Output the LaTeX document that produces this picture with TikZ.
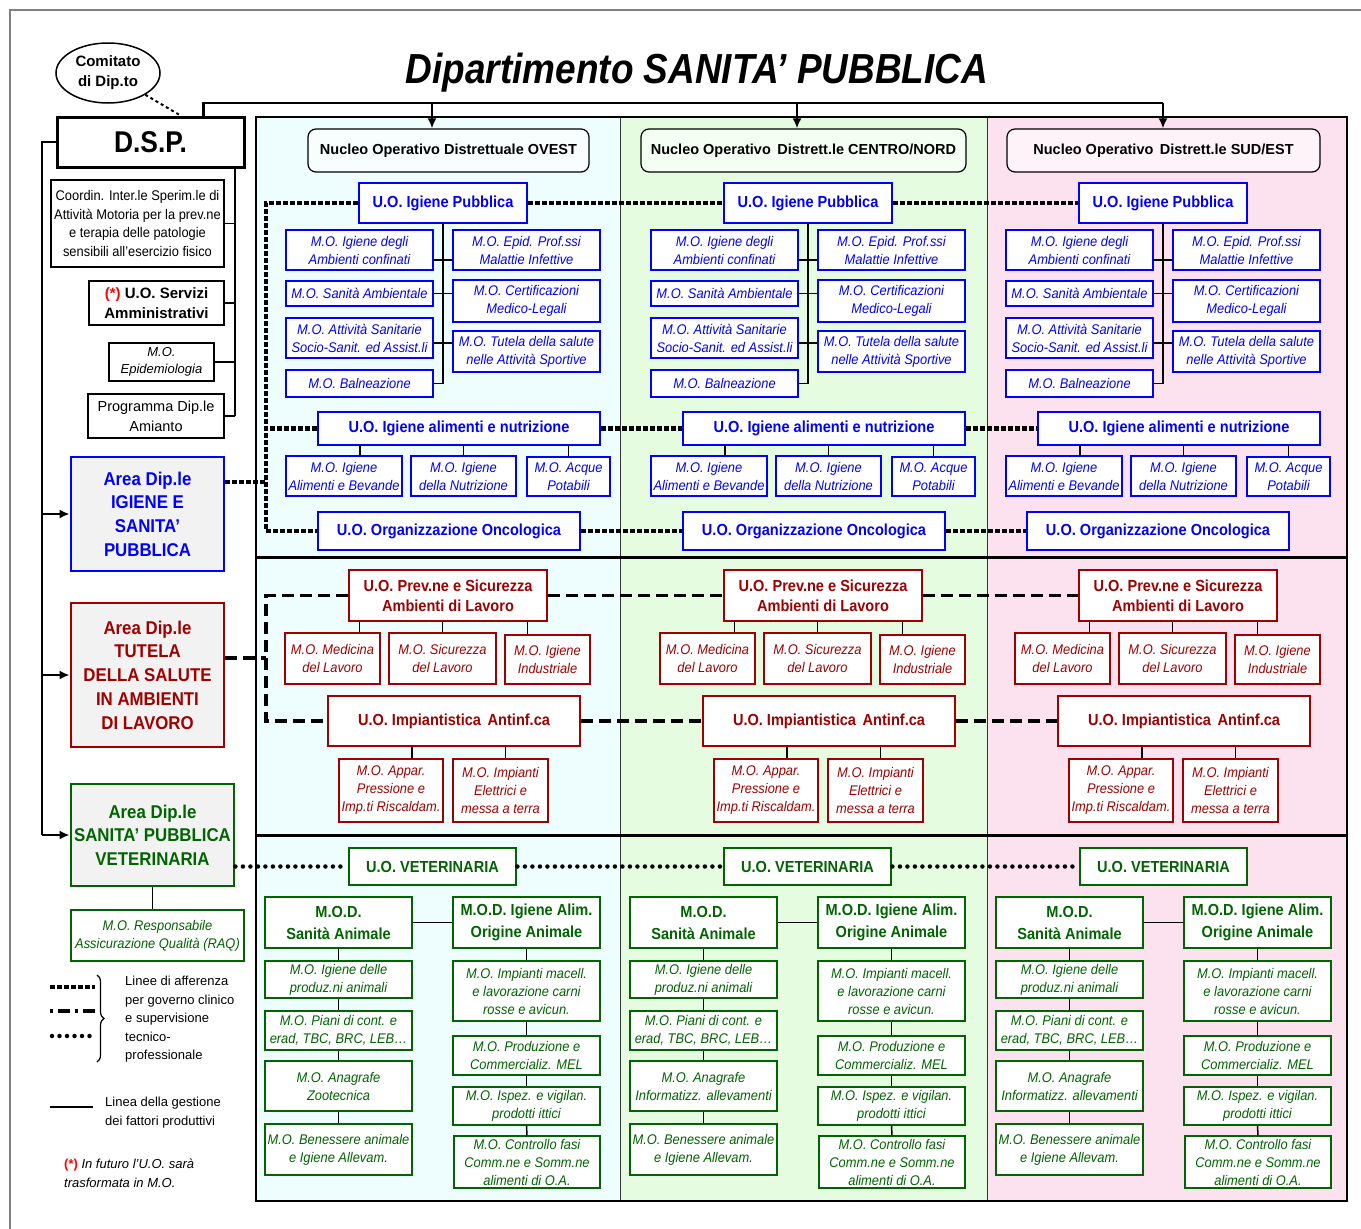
\documentclass[tikz,border=0pt]{standalone}
\usepackage{fontspec}
\setmainfont{Liberation Sans}
\newfontfamily\narrowfont{Liberation Sans}[FakeStretch=0.88]
\newfontfamily\uofont{Liberation Sans}[FakeStretch=0.91]
\newfontfamily\mofont{Liberation Sans}[FakeStretch=0.92]
\usetikzlibrary{arrows.meta,shapes.geometric,decorations.pathreplacing,calc}

\definecolor{ipblue}{RGB}{0,0,255}
\definecolor{tsred}{RGB}{160,0,0}
\definecolor{vetgreen}{RGB}{0,100,0}
\definecolor{bgovest}{HTML}{EEFDFD}
\definecolor{bgcentro}{HTML}{E6FCE0}
\definecolor{bgsud}{HTML}{FCE1EF}

\tikzset{
  ubox/.style={draw, fill=white, align=center, inner sep=0pt},
  mo/.style={ubox, line width=1.6pt, font=\mofont\itshape\fontsize{14}{18}\selectfont},
  uo/.style={ubox, line width=2.8pt, font=\uofont\bfseries\fontsize{16}{20}\selectfont},
  area/.style={ubox, line width=2.8pt, fill=gray!10, font=\uofont\bfseries\fontsize{18.5}{23.7}\selectfont},
  staff/.style={ubox, font=\fontsize{13.5}{18.5}\selectfont},
  nucleo/.style={draw, rounded corners=8pt, line width=1.2pt, align=center, inner sep=0pt,
    font=\bfseries\fontsize{14.5}{17}\selectfont},
  bl/.style={draw=ipblue, text=ipblue},
  rd/.style={draw=tsred, text=tsred},
  gr/.style={draw=vetgreen, text=vetgreen},
  conn/.style={line width=1.5pt},
  sqdot/.style={line width=4.5pt, dash pattern=on 4.5pt off 2.5pt},
  dashlink/.style={line width=3.5pt, dash pattern=on 12pt off 6pt},
  rounddot/.style={line width=4.5pt, line cap=round, dash pattern=on 0pt off 7.5pt},
  arr/.style={line width=2pt, -{Latex[length=10pt,width=9pt]}},
}

\begin{document}
\begin{tikzpicture}[x=1pt, y=-1pt]
    \useasboundingbox (0,0) rectangle (1361,1229);
    \draw[gray, line width=1.5pt] (10,1229) -- (10,10) -- (1361,10);

    % Panels of the three districts
    \foreach \xa/\xb/\bg in {256/621/bgovest, 621/988/bgcentro, 988/1347/bgsud} {
        \fill[\bg] (\xa,117) rectangle (\xb,1201);
        \draw[line width=1.2pt, black!80] (\xb,117) -- (\xb,1201);
    }
    \draw[line width=2pt] (256,117) rectangle (1347,1201);
    \draw[line width=3pt] (256,557) -- (1347,557);
    \draw[line width=3pt] (256,835) -- (1347,835);

    % Title, committee and D.S.P.
    \node[font=\narrowfont\bfseries\itshape\fontsize{42}{50}\selectfont] (title) at (697,73) {Dipartimento SANITA’ PUBBLICA};
    \node[draw, ellipse, line width=1.5pt, minimum width=104, minimum height=60, inner sep=0pt, align=center,
          font=\bfseries\fontsize{15}{20}\selectfont] (com) at (108,73) {Comitato\\di Dip.to};
    \node[ubox, line width=3pt, minimum width=187, minimum height=50,
          font=\narrowfont\bfseries\fontsize{30}{36}\selectfont] (dsp) at (150.5,142) {D.S.P.};
    \draw[dashed, line width=2pt] (com.south east) -- ([xshift=30]dsp.north);

    % Staff boxes
    \node[staff, line width=1.8pt, minimum width=173, minimum height=87, font=\mofont\fontsize{14}{18.5}\selectfont] (coord) at (137.5,223.5)
        {Coordin. Inter.le Sperim.le di\\Attività Motoria per la prev.ne\\e terapia delle patologie\\sensibili all’esercizio fisico};
    \node[ubox, line width=2.8pt, minimum width=135, minimum height=44, font=\bfseries\fontsize{15}{20}\selectfont] (serv) at (156.5,303)
        {{\color{red}(*)} U.O. Servizi\\Amministrativi};
    \node[staff, line width=1.5pt, minimum width=105, minimum height=38, font=\itshape\fontsize{13}{17}\selectfont] (epi) at (161.5,362)
        {M.O.\\Epidemiologia};
    \node[staff, line width=2.5pt, minimum width=136, minimum height=44, font=\fontsize{14.5}{20}\selectfont] (prog) at (156,416)
        {Programma Dip.le\\Amianto};
    \coordinate (stem) at (235,167);
    \draw[line width=1.2pt] (dsp.south -| stem) -- (stem |- prog.east);
    \foreach \b in {coord, serv, epi, prog}
        \draw[line width=1.2pt] (\b.east) -- (\b.east -| stem);

    % Areas
    \node[area, bl, minimum width=153, minimum height=114] (aip) at (147.5,514)
        {Area Dip.le\\IGIENE E\\SANITA’\\PUBBLICA};
    \node[area, rd, minimum width=153, minimum height=144] (atut) at (147.5,675)
        {Area Dip.le\\TUTELA\\DELLA SALUTE\\IN AMBIENTI\\DI LAVORO};
    \node[area, gr, minimum width=163, minimum height=102] (avet) at (152.5,835)
        {Area Dip.le\\SANITA’ PUBBLICA\\VETERINARIA};
    \node[mo, gr, line width=1.8pt, minimum width=173, minimum height=51] (raq) at (157.5,935.5)
        {M.O. Responsabile\\Assicurazione Qualità (RAQ)};
    \draw[conn] (avet.south) -- (avet.south |- raq.north);

    % Line of management: top bar and left spine
    \node[nucleo, fill=bgovest!40!white, minimum width=281, minimum height=43] (nuc1) at (448.5,150.5)
        {Nucleo Operativo Distrettuale OVEST};
    \node[nucleo, fill=bgcentro!40!white, minimum width=325, minimum height=43] (nuc2) at (803.5,150.5)
        {Nucleo Operativo\, Distrett.le CENTRO/NORD};
    \node[nucleo, fill=bgsud!40!white, minimum width=313, minimum height=43] (nuc3) at (1163.5,150.5)
        {Nucleo Operativo\, Distrett.le SUD/EST};
    \coordinate (bar) at (1163,103);
    \draw[line width=2.2pt] ([xshift=53]dsp.north) |- (bar);
    \foreach \c/\ax in {1/432, 2/797, 3/1163} {
        \coordinate (top\c) at (\ax,103);
        \draw[arr] (top\c) -- (top\c |- nuc\c.north);
    }
    \coordinate (spine) at (42,142);
    \draw[line width=2.2pt] (dsp.west) -- (spine) -- (spine |- avet.west);
    \foreach \a in {aip, atut, avet}
        \draw[arr] (spine |- \a.west) -- (\a.west);

    % Igiene e Sanita' Pubblica, one scope per district
    \foreach \c/\dx/\ox in {1/0/0, 2/365/365, 3/720/709} {
        \begin{scope}[xshift=\dx]
            \node[uo, bl, minimum width=168, minimum height=40] (ip\c) at (443,203) {U.O. Igiene Pubblica};
            \node[mo, bl, minimum width=147, minimum height=40] (ipA\c) at (359.5,250) {M.O. Igiene degli\\Ambienti confinati};
            \node[mo, bl, minimum width=147, minimum height=25] (ipS\c) at (359.5,293.5) {M.O. Sanità Ambientale};
            \node[mo, bl, minimum width=147, minimum height=40] (ipT\c) at (359.5,338) {M.O. Attività Sanitarie\\Socio-Sanit. ed Assist.li};
            \node[mo, bl, minimum width=147, minimum height=27] (ipB\c) at (359.5,383.5) {M.O. Balneazione};
            \node[mo, bl, minimum width=147, minimum height=40] (ipE\c) at (526.5,250) {M.O. Epid. Prof.ssi\\Malattie Infettive};
            \node[mo, bl, minimum width=147, minimum height=42] (ipC\c) at (526.5,301) {M.O. Certificazioni\\Medico-Legali};
            \node[mo, bl, minimum width=147, minimum height=41] (ipP\c) at (526.5,351.5) {M.O. Tutela della salute\\nelle Attività Sportive};
            \draw[conn] (ip\c.south) -- (ip\c.south |- ipB\c.east) -- (ipB\c.east);
            \draw[conn] ([yshift=-10]ipA\c.east) -- ([yshift=-10]ipA\c.east -| ipE\c.west);
            \draw[conn] (ipS\c.east) -- (ipS\c.east -| ipC\c.west);
            \draw[conn] ([yshift=-5]ipT\c.east) -- ([yshift=-5]ipT\c.east -| ipP\c.west);

            \node[uo, bl, minimum width=282, minimum height=33] (ian\c) at (459,428.5) {U.O. Igiene alimenti e nutrizione};
            \node[mo, bl, minimum width=116, minimum height=40] (ianA\c) at (344,476) {M.O. Igiene\\Alimenti e Bevande};
            \node[mo, bl, minimum width=105, minimum height=40] (ianN\c) at (463.5,476) {M.O. Igiene\\della Nutrizione};
            \node[mo, bl, minimum width=83, minimum height=39] (ianP\c) at (568.5,476.5) {M.O. Acque\\Potabili};
            \draw[conn] ([xshift=16]ianA\c.north) -- ([xshift=16]ianA\c.north |- ian\c.south);
            \draw[conn] (ianN\c.north) -- (ianN\c.north |- ian\c.south);
            \draw[conn] (ianP\c.north) -- (ianP\c.north |- ian\c.south);

            \node[uo, bl, minimum width=262, minimum height=38] (onc\c) at ({449+\ox-\dx},531) {U.O. Organizzazione Oncologica};
        \end{scope}
    }

    % Tutela della salute in ambienti di lavoro
    \foreach \c/\dx in {1/0, 2/375, 3/730} {
        \begin{scope}[xshift=\dx]
            \node[uo, rd, minimum width=198, minimum height=51] (pr\c) at (448,595.5) {U.O. Prev.ne e Sicurezza\\Ambienti di Lavoro};
            \node[mo, rd, minimum width=95, minimum height=51] (prM\c) at (332.5,658.5) {M.O. Medicina\\del Lavoro};
            \node[mo, rd, minimum width=107, minimum height=51] (prS\c) at (442.5,658.5) {M.O. Sicurezza\\del Lavoro};
            \node[mo, rd, minimum width=85, minimum height=49] (prI\c) at (547.5,659.5) {M.O. Igiene\\Industriale};
            \draw[conn] ([xshift=27]prM\c.north) -- ([xshift=27]prM\c.north |- pr\c.south);
            \draw[conn] (prS\c.north) -- (prS\c.north |- pr\c.south);
            \draw[conn] ([xshift=-20]prI\c.north) -- ([xshift=-20]prI\c.north |- pr\c.south);

            \node[uo, rd, minimum width=252, minimum height=50] (imp\c) at (454,721) {U.O. Impiantistica\, Antinf.ca};
            \node[mo, rd, minimum width=104, minimum height=63] (impA\c) at (391,790.5) {M.O. Appar.\\Pressione e\\Imp.ti Riscaldam.};
            \node[mo, rd, minimum width=95, minimum height=63] (impE\c) at (500.5,790.5) {M.O. Impianti\\Elettrici e\\messa a terra};
            \draw[conn] ([xshift=21]impA\c.north) -- ([xshift=21]impA\c.north |- imp\c.south);
            \draw[conn] ([xshift=5]impE\c.north) -- ([xshift=5]impE\c.north |- imp\c.south);
        \end{scope}
    }

    % Sanita' pubblica veterinaria
    \foreach \c/\vx/\dx/\anag in {1/0/0/Zootecnica, 2/375/365/{Informatizz. allevamenti}, 3/731/731/{Informatizz. allevamenti}} {
        \begin{scope}[xshift=\dx]
            \node[uo, gr, minimum width=167, minimum height=37] (vet\c) at ({432.5+\vx-\dx},866.5) {U.O. VETERINARIA};
            \node[uo, gr, minimum width=147, minimum height=51, font=\uofont\bfseries\fontsize{16}{22}\selectfont] (modS\c) at (338.5,922.5) {M.O.D.\\Sanità Animale};
            \node[uo, gr, minimum width=147, minimum height=51, font=\uofont\bfseries\fontsize{16}{22}\selectfont] (modI\c) at (526.5,922.5) {M.O.D. Igiene Alim.\\Origine Animale};
            \draw[conn] (modS\c.east) -- (modI\c.east -| modI\c.west);
            \draw[conn] ($(modS\c.east)!0.5!(modI\c.west)$) -- ($(modS\c.east)!0.5!(modI\c.west)$ |- vet\c.south);

            \node[mo, gr, minimum width=147, minimum height=37] (sa1\c) at (338.5,979.5) {M.O. Igiene delle\\produz.ni animali};
            \node[mo, gr, minimum width=147, minimum height=39] (sa2\c) at (338.5,1030.5) {M.O. Piani di cont. e\\erad, TBC, BRC, LEB…};
            \node[mo, gr, minimum width=147, minimum height=50] (sa3\c) at (338.5,1086) {M.O. Anagrafe\\\anag};
            \node[mo, gr, minimum width=147, minimum height=51] (sa4\c) at (338.5,1149.5) {M.O. Benessere animale\\e Igiene Allevam.};
            \draw[conn] (modS\c.south) -- (sa1\c.north);
            \draw[conn] (sa1\c.south) -- (sa2\c.north);
            \draw[conn] (sa2\c.south) -- (sa3\c.north);
            \draw[conn] (sa3\c.south) -- (sa4\c.north);

            \node[mo, gr, minimum width=147, minimum height=60] (oa1\c) at (526.5,991) {M.O. Impianti macell.\\e lavorazione carni\\rosse e avicun.};
            \node[mo, gr, minimum width=147, minimum height=39] (oa2\c) at (526.5,1055.5) {M.O. Produzione e\\Commercializ. MEL};
            \node[mo, gr, minimum width=147, minimum height=38] (oa3\c) at (526.5,1106) {M.O. Ispez. e vigilan.\\prodotti ittici};
            \node[mo, gr, minimum width=146, minimum height=52] (oa4\c) at (527,1162) {M.O. Controllo fasi\\Comm.ne e Somm.ne\\alimenti di O.A.};
            \draw[conn] (modI\c.south) -- (oa1\c.north);
            \draw[conn] (oa1\c.south) -- (oa2\c.north);
            \draw[conn] (oa2\c.south) -- (oa3\c.north);
            \draw[conn] (oa3\c.south) -- (oa4\c.north);
        \end{scope}
    }

    % Clinical governance links
    \coordinate (lk) at (266,0);
    \draw[sqdot] (ip1.west) -| (lk |- onc1.west) -- (onc1.west);
    \draw[sqdot] (ian1.west) -- (ian1.west -| lk);
    \draw[sqdot] ([yshift=32]aip.east) -- ([yshift=32]aip.east -| lk);
    \draw[dashlink] (pr1.west) -| (lk |- imp1.west) -- (imp1.west);
    \draw[dashlink] ([yshift=17]atut.east) -- ([yshift=17]atut.east -| lk);
    \draw[rounddot] (avet.east |- vet1.west) -- (vet1.west);
    \foreach \n in {ip, ian, onc} {
        \draw[sqdot] (\n1.east) -- (\n2.west);
        \draw[sqdot] (\n2.east) -- (\n3.west);
    }
    \foreach \n in {pr, imp} {
        \draw[dashlink] (\n1.east) -- (\n2.west);
        \draw[dashlink] (\n2.east) -- (\n3.west);
    }
    \draw[rounddot] (vet1.east) -- (vet2.west);
    \draw[rounddot] (vet2.east) -- (vet3.west);

    % Legend
    \draw[sqdot] (50,987) -- (95,987);
    \draw[dashlink, dash pattern=on 3pt off 5pt on 12pt off 5pt] (50,1011) -- (95,1011);
    \draw[rounddot] (52,1036) -- (95,1036);
    \draw[line width=1.2pt, decorate, decoration={brace, amplitude=7pt}] (97,975) -- (97,1062);
    \node[anchor=north west, align=left, inner sep=0pt, font=\fontsize{13}{18.5}\selectfont] (leg1) at (125,976)
        {Linee di afferenza\\per governo clinico\\e supervisione\\tecnico-\\professionale};
    \draw[line width=2.5pt] (50,1107) -- (93,1107);
    \node[anchor=north west, align=left, inner sep=0pt, font=\fontsize{13}{18.5}\selectfont] (leg2) at (105,1097)
        {Linea della gestione\\dei fattori produttivi};
    \node[anchor=north west, align=left, inner sep=0pt, font=\itshape\fontsize{13}{19}\selectfont] (note) at (64,1159)
        {{\color{red}\upshape\bfseries(*)} In futuro l’U.O. sarà\\trasformata in M.O.};

\end{tikzpicture}
\end{document}
